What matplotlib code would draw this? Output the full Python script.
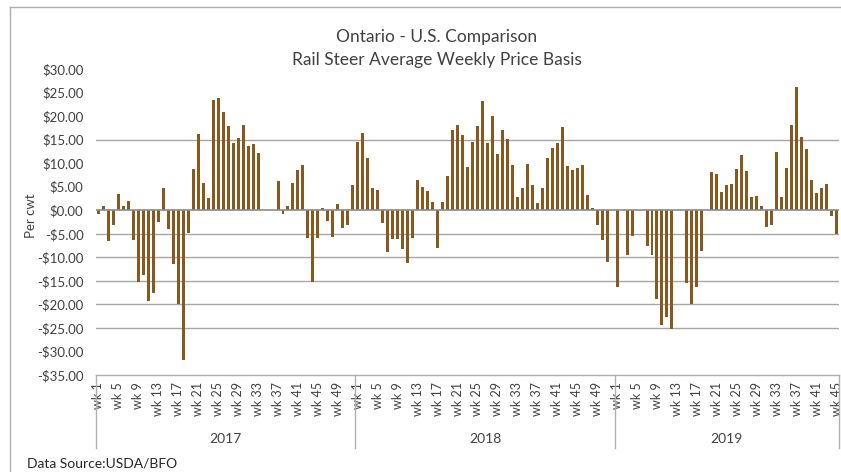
import matplotlib
matplotlib.use('Agg')
import matplotlib.pyplot as plt
import matplotlib.transforms as mtransforms
from matplotlib.lines import Line2D
import numpy as np

nan = float('nan')

# weekly basis, $/cwt (blank weeks = nan)
basis_2017 = [-0.7, 0.9, -6.6, -3.2, 3.5, 0.9, 2.0, -6.4, -15.3, -13.8,
              -19.3, -17.6, -2.4, 4.7, -3.9, -11.5, -20.0, -31.8, -4.9, 8.7,
              16.1, 5.8, 2.7, 23.5, 23.9, 20.8, 17.8, 14.2, 15.3, 18.0,
              13.6, 14.0, 12.1, nan, nan, nan, 6.2, -0.7, 0.9, 5.8,
              8.5, 9.6, -6.0, -15.3, -6.0, 0.5, -2.2, -5.6, 1.3, -3.7,
              -3.2, 5.4]
basis_2018 = [14.5, 16.3, 11.1, 4.7, 4.3, -2.8, -8.9, -6.2, -6.2, -8.3,
              -11.3, -5.8, 6.4, 4.9, 4.1, 1.8, -8.1, 1.8, 7.3, 17.0,
              18.2, 15.9, 9.2, 14.4, 17.8, 23.3, 14.2, 20.1, 11.9, 17.0,
              15.1, 9.6, 2.8, 4.7, 9.8, 5.4, 1.5, 4.7, 11.1, 13.2,
              14.2, 17.6, 9.4, 8.5, 8.9, 9.6, 3.2, 0.5, -3.2, -6.4,
              -11.1, nan]
basis_2019 = [-16.3, nan, -9.6, -5.4, nan, nan, -7.7, -9.6, -18.9, -24.4,
              -22.7, -25.2, nan, nan, -15.5, -19.9, -16.3, -8.7, nan, 8.1,
              7.7, 3.9, 5.4, 5.6, 8.7, 11.7, 8.3, 2.8, 3.0, 0.9,
              -3.5, -3.2, 12.3, 2.8, 8.9, 18.0, 26.1, 15.5, 13.0, 6.4,
              3.7, 4.7, 5.6, -1.3, -5.1]

years = ['2017', '2018', '2019']
series = [basis_2017, basis_2018, basis_2019]
grid_levels = [15, -5, -10, -15, -20, -25]

values = []
weeks = []
for s in series:
    values += s
    weeks += list(range(1, len(s) + 1))
values = np.array(values)
x = np.arange(len(values))

plt.rcParams['font.family'] = ['Lato', 'DejaVu Sans']

fig = plt.figure(figsize=(8.41, 4.72), dpi=100)
ax = fig.add_axes([96 / 841, 1 - 375 / 472, 743 / 841, 306 / 472])

# gridlines first so bars sit on top
for g in grid_levels:
    ax.axhline(g, color='#a6a6a6', lw=1.0, zorder=0)
ax.axhline(0, color='#8c8c8c', lw=1.2, zorder=3)

ax.bar(x, values, width=0.6, color='#87591f', zorder=2)

ax.set_xlim(-0.5, len(values) - 0.5)
ax.set_ylim(-35, 30)
yt = np.arange(-35, 31, 5)
ax.set_yticks(yt)
ax.set_yticklabels([('-$%.2f' % abs(v)) if v < 0 else ('$%.2f' % v) for v in yt],
                   fontsize=9.5, color='#404040')
ax.tick_params(axis='y', length=0, pad=9)

tick_pos = [i for i in x if weeks[i] % 4 == 1]
ax.set_xticks(tick_pos)
ax.set_xticklabels(['wk %d' % weeks[i] for i in tick_pos], rotation=90,
                   fontsize=9, color='#404040')
ax.tick_params(axis='x', length=0, pad=5)

for sp in ['left', 'right', 'top']:
    ax.spines[sp].set_visible(False)
ax.spines['bottom'].set_color('#b0b0b0')
ax.spines['bottom'].set_linewidth(1.0)

# year separators and labels under the axis
trans = mtransforms.blended_transform_factory(ax.transData, ax.transAxes)
bounds = [-0.5]
for s in series:
    bounds.append(bounds[-1] + len(s))
for b in bounds:
    ax.plot([b, b], [0, -73 / 306], transform=trans, color='#b0b0b0',
            lw=1.0, clip_on=False)
for i, yr in enumerate(years):
    ax.text((bounds[i] + bounds[i + 1]) / 2, -64 / 306, yr, transform=trans,
            ha='center', va='center', fontsize=10, color='#404040')

ax.set_ylabel('Per cwt', fontsize=9.5, color='#404040')
ax.yaxis.set_label_coords(-59 / 743, 0.52)

fig.text(437 / 841, 1 - 37 / 472, 'Ontario - U.S. Comparison', ha='center',
         va='center', fontsize=12.5, color='#404040')
fig.text(437 / 841, 1 - 60 / 472, 'Rail Steer Average Weekly Price Basis',
         ha='center', va='center', fontsize=12.5, color='#404040')
fig.text(27 / 841, 1 - 463 / 472, 'Data Source:USDA/BFO', ha='left',
         va='center', fontsize=10, color='#262626')

# chart area border (left and top edges visible)
fig.add_artist(Line2D([10 / 841, 10 / 841], [0, 1 - 7 / 472],
                      transform=fig.transFigure, color='#b0b0b0', lw=1.0))
fig.add_artist(Line2D([10 / 841, 1], [1 - 7 / 472, 1 - 7 / 472],
                      transform=fig.transFigure, color='#b0b0b0', lw=1.0))

fig.savefig('out.png', dpi=100)
